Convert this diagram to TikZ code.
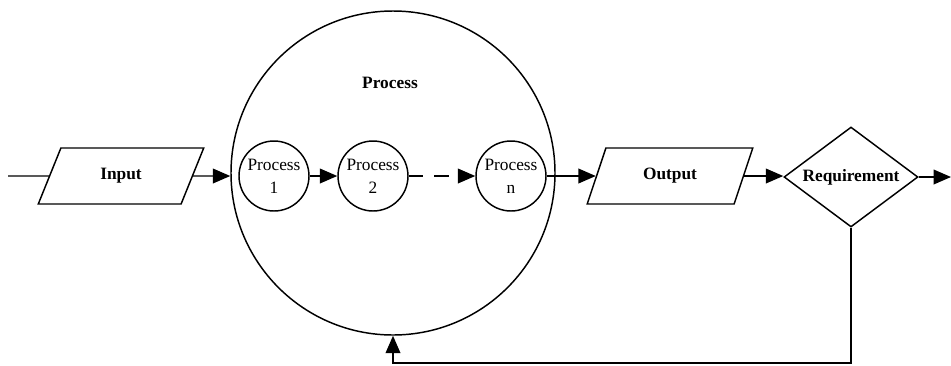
\documentclass[tikz,border=0pt]{standalone}
\usepackage{fontspec}
\setmainfont{Liberation Serif}
\usetikzlibrary{positioning}
\usetikzlibrary{shapes.geometric}
\usetikzlibrary{arrows.meta}

\begin{document}
\begin{tikzpicture}[x=0.75pt, y=-0.75pt, line width=1.1pt,
	font=\fontsize{13}{17}\selectfont,
	arr/.style={-{Triangle[length=13pt, width=11pt]}},
	io/.style={draw, trapezium, trapezium left angle=62.6, trapezium right angle=117.4,
		trapezium stretches=true, minimum width=124.5pt, minimum height=42pt,
		inner sep=0pt, font=\fontsize{13}{17}\selectfont\bfseries},
	proc/.style={draw, circle, minimum size=52.5pt, inner sep=0pt, align=center},
	check/.style={draw, diamond, aspect=1.34, minimum width=100.5pt, minimum height=75pt,
		inner sep=0pt, font=\fontsize{13}{17}\selectfont\bfseries}]
	\useasboundingbox (0,0) rectangle (951,365);
	% main process
	\node[draw, circle, minimum size=243pt, inner sep=0pt] (big) at (393,173) {};
	\node[font=\fontsize{13}{17}\selectfont\bfseries] (ptitle) at (390,83) {Process};
	\node[proc] (p1) at (274,176) {Process\\1};
	\node[proc] (p2) at (373,176) {Process\\2};
	\node[proc] (pn) at (511,176) {Process\\n};
	% input and output
	\node[io] (in) at (121,176) {Input};
	\node[io] (out) at (670,176) {Output};
	\node[check] (req) at (851,177) {Requirement};
	\coordinate (start) at (8,176);
	\coordinate (end) at (951,177);
	\coordinate (fb) at (851,363);
	% connectors
	\draw (start) -- (in);
	\draw[arr] (in) -- (in -| big.west);
	\draw[arr] (p1) -- (p2);
	\draw[arr, dash pattern=on 11pt off 8pt] (p2) -- (pn);
	\draw[arr] (pn) -- (out);
	\draw[arr] (out.east) -- (out.east -| req.west);
	\draw[arr] (req) -- (end);
	\draw[arr] (req.south) -- (fb) -| (big.south);
\end{tikzpicture}
\end{document}
